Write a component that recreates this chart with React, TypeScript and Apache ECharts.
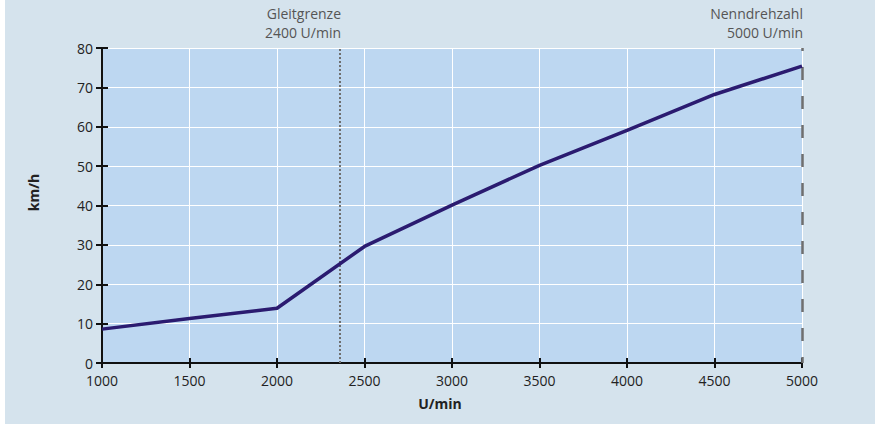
import React, { useEffect, useRef } from "react";
import * as echarts from "echarts";

const rpm = [1000, 1500, 2000, 2500, 3000, 3500, 4000, 4500, 5000];
const speed = [8.6, 11.3, 13.9, 29.6, 40.1, 50.2, 59.1, 68.2, 75.4];
const glideRpm = 2360;
const ratedRpm = 5000;
const glideLabel = "Gleitgrenze\n2400 U/min";
const ratedLabel = "Nenndrehzahl\n5000 U/min";

const FONT = "'Open Sans', 'Noto Sans', sans-serif";

export default function App() {
  const ref = useRef<HTMLDivElement>(null);
  useEffect(() => {
    if (!ref.current) return;
    const chart = echarts.init(ref.current, null, { renderer: "svg" });
    const data = rpm.map((r, i) => [r, speed[i]]);
    chart.setOption({
      animation: false,
      textStyle: { fontFamily: FONT },
      grid: {
        left: 97,
        right: 73,
        top: 48,
        bottom: 61,
        show: true,
        backgroundColor: "#bdd7f1",
        borderWidth: 0,
      },
      xAxis: [
        {
          type: "value",
          min: 1000,
          max: 5000,
          interval: 500,
          name: "U/min",
          nameLocation: "middle",
          nameGap: 33,
          nameTextStyle: { fontWeight: "bold", fontSize: 14, color: "#222", padding: [0, 24, 0, 0] },
          axisLine: { show: true, lineStyle: { color: "#111", width: 2 } },
          axisTick: { show: true, length: 5, lineStyle: { color: "#111", width: 2 } },
          axisLabel: { color: "#222", fontSize: 14, margin: 10, formatter: (v: number) => String(v) },
          splitLine: { show: true, lineStyle: { color: "#ffffff", width: 1 } },
        },
        {
          type: "value",
          min: 1000,
          max: 5000,
          interval: 500,
          position: "bottom",
          axisLine: { show: false },
          axisTick: { show: true, inside: true, length: 5, lineStyle: { color: "#111", width: 2 } },
          axisLabel: { show: false },
          splitLine: { show: false },
        },
      ],
      yAxis: [
        {
          type: "value",
          min: 0,
          max: 80,
          interval: 10,
          name: "km/h",
          nameLocation: "middle",
          nameGap: 62,
          nameTextStyle: { fontWeight: "bold", fontSize: 14, color: "#222", padding: [0, 0, 0, 26] },
          axisLine: { show: true, lineStyle: { color: "#111", width: 2 } },
          axisTick: { show: true, length: 6, lineStyle: { color: "#111", width: 2 } },
          axisLabel: { color: "#222", fontSize: 14, margin: 9 },
          splitLine: { show: true, lineStyle: { color: "#ffffff", width: 1 } },
        },
        {
          type: "value",
          min: 0,
          max: 80,
          interval: 10,
          position: "left",
          axisLine: { show: false },
          axisTick: { show: true, inside: true, length: 6, lineStyle: { color: "#111", width: 2 } },
          axisLabel: { show: false },
          splitLine: { show: false },
        },
      ],
      series: [
        {
          type: "line",
          data,
          symbol: "none",
          lineStyle: { color: "#2b1b70", width: 3.5 },
          z: 5,
          markLine: {
            silent: true,
            symbol: "none",
            data: [
              {
                xAxis: glideRpm,
                lineStyle: { color: "#6f6f6f", width: 2, type: [2, 2] },
                label: {
                  show: true,
                  position: "end",
                  formatter: glideLabel,
                  align: "right",
                  color: "#555",
                  fontSize: 14,
                  lineHeight: 19,
                  fontFamily: FONT,
                  distance: 6,
                  offset: [1, 0],
                },
              },
              {
                xAxis: ratedRpm,
                lineStyle: { color: "#6f6f6f", width: 2.5, type: [13, 16], dashOffset: 7 },
                label: {
                  show: true,
                  position: "end",
                  formatter: ratedLabel,
                  align: "right",
                  color: "#555",
                  fontSize: 14,
                  lineHeight: 19,
                  fontFamily: FONT,
                  distance: 6,
                  offset: [1, 0],
                },
              },
            ],
          },
        },
      ],
    });
    return () => chart.dispose();
  }, []);
  return (
    <div style={{ position: "absolute", left: 0, top: 0, width: 880, height: 424, background: "#ffffff" }}>
      <div
        ref={ref}
        style={{ position: "absolute", left: 5, top: 0, width: 870, height: 424, background: "#d5e3ed" }}
      />
    </div>
  );
}
